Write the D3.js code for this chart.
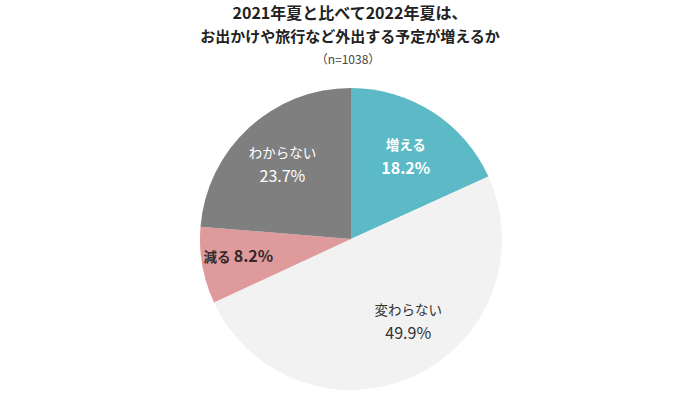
<!DOCTYPE html>
<html>
<head>
<meta charset="utf-8">
<script src="https://cdn.jsdelivr.net/npm/d3@7"></script>
<style>
  body { margin: 0; background: #fff; }
  text { font-family: "Noto Sans CJK JP", "Noto Sans", sans-serif; }
</style>
</head>
<body>
<svg id="chart" width="700" height="393"></svg>
<script>
const categories = ['増える', '変わらない', '減る', 'わからない'];
const values = [18.2, 49.9, 8.2, 23.7];
const colors = ['#5bbac6', '#f2f2f2', '#df9b9b', '#7f7f7f'];
const textColors = ['#ffffff', '#333333', '#33282a', '#ffffff'];
const titleLines = ['2021年夏と比べて2022年夏は、', 'お出かけや旅行など外出する予定が増えるか'];
const note = '（n=1038）';

const svg = d3.select('#chart');
const [cx, cy, R] = [351, 239, 151];

// title
svg.selectAll('.title').data(titleLines).join('text')
    .attr('class', 'title')
    .attr('x', 350)
    .attr('y', (d, i) => 19 + i * 23)
    .attr('text-anchor', 'middle')
    .style('font-size', (d, i) => i === 0 ? '16px' : '15px')
    .style('font-weight', 700)
    .attr('fill', '#222')
    .text(d => d);

svg.append('text')
    .attr('x', 348).attr('y', 64)
    .attr('text-anchor', 'middle')
    .style('font-size', '12px')
    .attr('fill', '#444')
    .text(note);

const pie = d3.pie().sort(null).value(d => d.value);
const data = pie(categories.map((c, i) => ({ name: c, value: values[i], i })));
const arc = d3.arc().innerRadius(0).outerRadius(R);

const g = svg.append('g').attr('transform', `translate(${cx},${cy})`);
g.selectAll('path').data(data).join('path')
    .attr('d', arc)
    .attr('fill', d => colors[d.data.i]);

// labels: centroid on a ring, then nudged like the original layout
const labelArc = d3.arc().innerRadius(R * 0.67).outerRadius(R * 0.67);
const nudge = [[0, 3], [15, -9], [-13, 0], [0, 0]];
data.forEach(d => {
    const i = d.data.i;
    let [x, y] = labelArc.centroid(d);
    x += nudge[i][0]; y += nudge[i][1];
    const bold = i === 0 || i === 2;
    const t = g.append('text')
        .attr('text-anchor', 'middle')
        .attr('fill', textColors[i])
        .style('font-weight', bold ? 700 : 400);
    if (i === 2) {
        t.attr('x', x).attr('y', y + 5);
        t.append('tspan').style('font-size', '13.5px').text(d.data.name + ' ');
        t.append('tspan').style('font-size', '16px').text(`${d.data.value}%`);
    } else {
        t.append('tspan').attr('x', x).attr('y', y - 7)
            .style('font-size', '13.5px').text(d.data.name);
        t.append('tspan').attr('x', x).attr('y', y + 17)
            .style('font-size', '16px').text(`${d.data.value}%`);
    }
});
</script>
</body>
</html>
